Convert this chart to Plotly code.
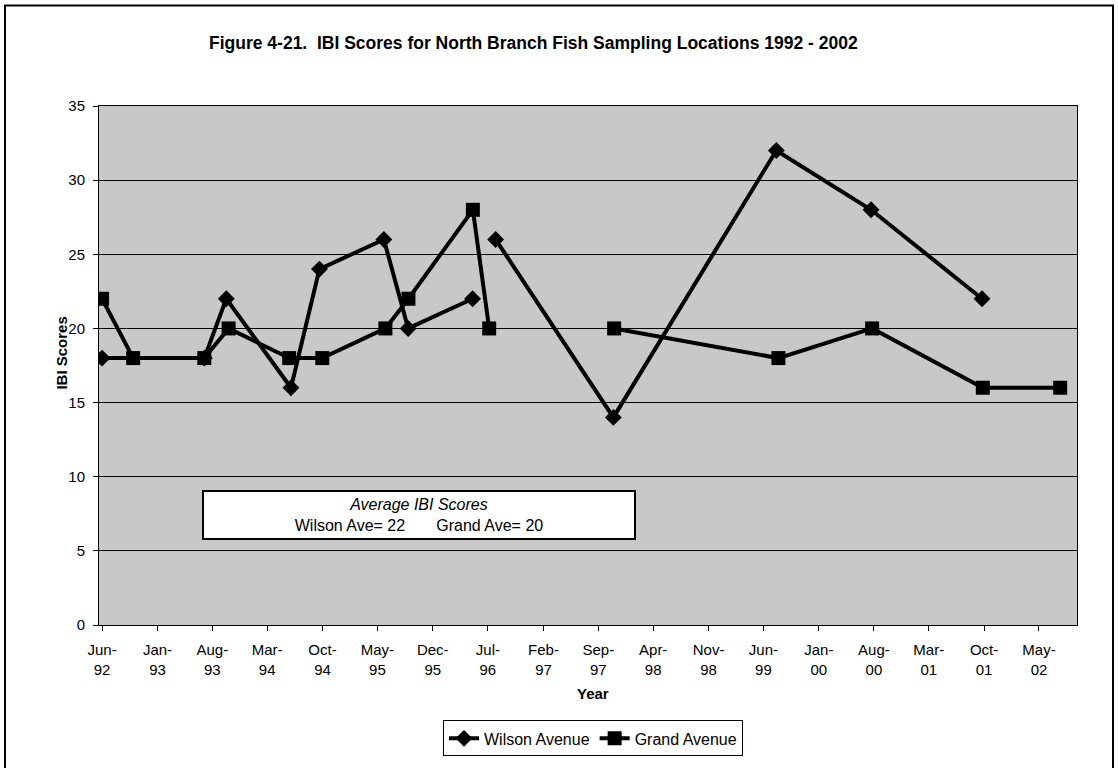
import plotly.graph_objects as go

# ---- data -------------------------------------------------------------
wilson_dates = ["1992-06-01", "1993-07-01", "1993-09-24", "1994-06-01", "1994-09-19",
                "1995-05-26", "1995-08-28", "1996-05-03", None, "1996-07-31",
                "1997-10-29", "1999-07-21", "2000-07-21", "2001-09-23"]
wilson_scores = [18, 18, 22, 16, 24, 26, 20, 22, None, 26, 14, 32, 28, 22]

grand_dates = ["1992-06-01", "1992-09-29", "1993-07-01", "1993-10-03", "1994-05-25",
               "1994-09-30", "1995-06-01", "1995-08-29", "1996-05-04", "1996-07-06",
               None, "1997-11-01", "1999-07-29", "2000-07-25", "2001-09-26", "2002-07-22"]
grand_scores = [22, 18, 18, 20, 18, 18, 20, 22, 28, 20, None, 20, 18, 20, 16, 16]

tick_dates = ["1992-06-01", "1993-01-01", "1993-08-01", "1994-03-01", "1994-10-01",
              "1995-05-01", "1995-12-01", "1996-07-01", "1997-02-01", "1997-09-01",
              "1998-04-01", "1998-11-01", "1999-06-01", "2000-01-01", "2000-08-01",
              "2001-03-01", "2001-10-01", "2002-05-01"]
tick_labels = ["Jun-<br>92", "Jan-<br>93", "Aug-<br>93", "Mar-<br>94", "Oct-<br>94",
               "May-<br>95", "Dec-<br>95", "Jul-<br>96", "Feb-<br>97", "Sep-<br>97",
               "Apr-<br>98", "Nov-<br>98", "Jun-<br>99", "Jan-<br>00", "Aug-<br>00",
               "Mar-<br>01", "Oct-<br>01", "May-<br>02"]

# ---- layout geometry (pixels) ----------------------------------------
W, H = 1118, 768
L, R, T, B = 99, 41, 106, 140
PW, PH = W - L - R, H - T - B


def px(x):
    return (x - L) / PW


def py(y):
    return (H - B - y) / PH


FONT = "Liberation Sans, Arial, sans-serif"


def mean_of(vals):
    v = [s for s in vals if s is not None]
    return round(sum(v) / len(v))


fig = go.Figure()
fig.add_trace(go.Scatter(
    x=wilson_dates, y=wilson_scores, name="Wilson Avenue",
    mode="lines+markers", connectgaps=False,
    line=dict(color="black", width=4),
    marker=dict(symbol="diamond", size=13, color="black"),
))
fig.add_trace(go.Scatter(
    x=grand_dates, y=grand_scores, name="Grand Avenue",
    mode="lines+markers", connectgaps=False,
    line=dict(color="black", width=4),
    marker=dict(symbol="square", size=14, color="black"),
))

fig.update_layout(
    width=W, height=H,
    margin=dict(l=L, r=R, t=T, b=B),
    paper_bgcolor="white",
    plot_bgcolor="#c8c8c8",
    font=dict(family=FONT, size=15, color="black"),
    showlegend=True,
    legend=dict(
        orientation="h", x=px(593), xanchor="center", y=py(724), yanchor="top",
        bgcolor="white", bordercolor="black", borderwidth=1,
        font=dict(family=FONT, size=16), itemwidth=30,
        tracegroupgap=0,
    ),
    xaxis=dict(
        type="date", range=["1992-05-20", "2002-09-25"],
        tickmode="array", tickvals=tick_dates, ticktext=tick_labels,
        ticks="outside", ticklen=5, tickcolor="black", tickwidth=1,
        ticklabelstandoff=6,
        showgrid=False, zeroline=False,
        showline=True, linecolor="black", linewidth=1, mirror=True,
        tickfont=dict(family=FONT, size=15),
    ),
    yaxis=dict(
        range=[0, 35], tick0=0, dtick=5,
        ticks="outside", ticklen=5, tickcolor="black", tickwidth=1,
        ticklabelstandoff=5,
        showgrid=True, gridcolor="black", gridwidth=1, zeroline=False,
        showline=True, linecolor="black", linewidth=1, mirror=True,
        tickfont=dict(family=FONT, size=15),
    ),
)

annotations = [
    dict(text="<b>Figure 4-21.  IBI Scores for North Branch Fish Sampling Locations 1992 - 2002</b>",
         x=px(533), y=py(43), xref="paper", yref="paper", showarrow=False,
         font=dict(family=FONT, size=17.5), xanchor="center", yanchor="middle"),
    dict(text="<b>IBI Scores</b>", x=px(62), y=py(355), xref="paper", yref="paper",
         showarrow=False, textangle=-90, font=dict(family=FONT, size=15),
         xanchor="center", yanchor="middle"),
    dict(text="<b>Year</b>", x=px(593), y=py(697), xref="paper", yref="paper",
         showarrow=False, font=dict(family=FONT, size=15),
         xanchor="center", yanchor="middle"),
    dict(text="<i>Average IBI Scores</i><br>Wilson Ave= %d" % mean_of(wilson_scores)
         + "&nbsp;" * 7 + "Grand Ave= %d" % mean_of(grand_scores),
         x=px(419), y=py(517), xref="paper", yref="paper", showarrow=False,
         font=dict(family=FONT, size=16), xanchor="center", yanchor="middle",
         width=430, height=46, bgcolor="white", bordercolor="black", borderwidth=2,
         borderpad=0, align="center"),
]
fig.update_layout(annotations=annotations)

# outer frame around the whole figure
fig.add_shape(type="rect", xref="paper", yref="paper",
              x0=px(5), x1=px(1113), y0=py(775), y1=py(5),
              line=dict(color="black", width=2), fillcolor="rgba(0,0,0,0)", layer="above")

fig.write_html("out.html")
